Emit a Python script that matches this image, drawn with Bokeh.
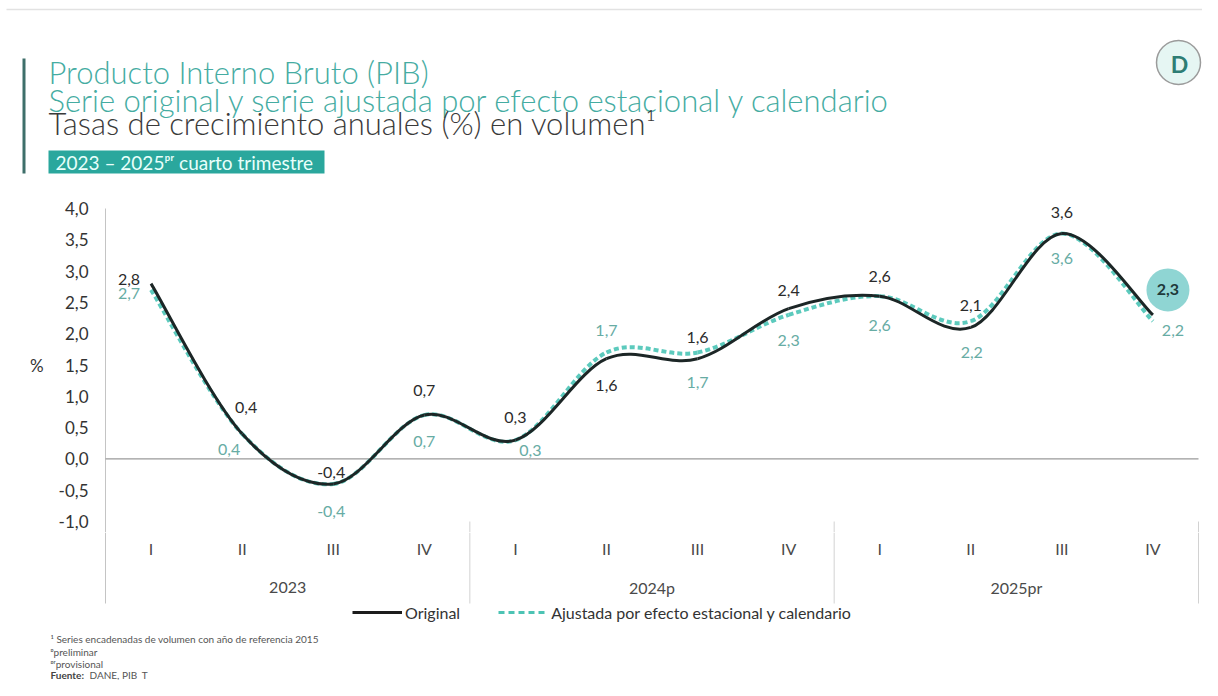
from bokeh.plotting import figure
from bokeh.layouts import column
from bokeh.models import (Range1d, Label, Legend, LegendItem, ColumnDataSource,
                          FixedTicker, CustomJSTickFormatter)
from bokeh.core.properties import value
from bokeh.embed import file_html
from bokeh.resources import INLINE

# ---------------- data ----------------
quarters = ["I", "II", "III", "IV", "I", "II", "III", "IV", "I", "II", "III", "IV"]
years = ["2023", "2024p", "2025pr"]
original = [2.8, 0.4, -0.4, 0.7, 0.3, 1.6, 1.6, 2.4, 2.6, 2.1, 3.6, 2.3]
ajustada = [2.7, 0.4, -0.4, 0.7, 0.3, 1.7, 1.7, 2.3, 2.6, 2.2, 3.6, 2.2]
y_ticks = [-1.0, -0.5, 0.0, 0.5, 1.0, 1.5, 2.0, 2.5, 3.0, 3.5, 4.0]

title1 = "Producto Interno Bruto (PIB)"
title2 = "Serie original y serie ajustada por efecto estacional y calendario"
title3 = "Tasas de crecimiento anuales (%) en volumen\u00b9"
period = "2023 \u2013 2025\u1d56\u02b3 cuarto trimestre"
notes = ["\u00b9 Series encadenadas de volumen con a\u00f1o de referencia 2015",
         "\u1d56preliminar", "\u1d56\u02b3provisional"]
source_label = "Fuente:"
source_text = "DANE, PIB_T"
legend_labels = ["Original", "Ajustada por efecto estacional y calendario"]

# label placement (screen px offsets, +down)
orig_dx = [-22, 4, -2, 0, 0, 0, 0, 0, 0, 0, 0, 15]
orig_dy = [-4, -26, -11, -25, -23, 27, -21, -18, -20, -22, -21, -25]
adj_dx = [-22, -13, -2, 0, 15, 0, 0, 0, 0, 1, 0, 20]
adj_dy = [4, 16, 28, 26, 10, -22, 30, 26, 29, 31, 25, 9]

# ---------------- style / geometry ----------------
FONT = "Lato"
TITLE_FONT = "Lato Light"
TEAL = "#45aca2"
DARK = "#3a3a3a"
LAB_DARK = "#2b2b2b"
LAB_TEAL = "#67aca4"
CAT_COL = "#4a4a4a"

W = 1202
TOP_H, MAIN_H, BOT_H = 198, 334, 148        # page rows: 0-198, 198-532, 532-680
XL, XR = 105, 1198                           # page x of category range 0..12
NCAT = len(quarters)
PXX = (XR - XL) / NCAT
PXY = 62.6                                   # px per 1.0 on y
Y_AT_208 = 4.0                               # value at page y 208
ML = 101


def yv(py):
    return Y_AT_208 - (py - 208) / PXY


def fmt(v):
    return f"{v:.1f}".replace(".", ",")


def base_fig(h, xr, yr, **kw):
    f = figure(width=W, height=h, x_range=xr, y_range=yr, output_backend="svg",
               toolbar_location=None, frame_align=False, **kw)
    f.xaxis.visible = False
    f.xgrid.visible = False
    f.ygrid.visible = False
    f.outline_line_color = None
    f.background_fill_color = "white"
    f.border_fill_color = "white"
    return f


# ================= top: titles =================
ph = base_fig(TOP_H, Range1d(0, W), Range1d(TOP_H, 0),
              min_border_left=0, min_border_right=0, min_border_top=0, min_border_bottom=0)
ph.yaxis.visible = False
ph.segment(x0=[6], y0=[9], x1=[W], y1=[9], line_color="#e2e2e2", line_width=1.5)
ph.quad(left=[22], right=[25], top=[58], bottom=[173], fill_color="#3e6f6a", line_color=None)
ph.text(x=[48, 48, 48], y=[71, 99, 122], text=[title1, title2, title3],
        text_color=[TEAL, TEAL, DARK], text_font=value(TITLE_FONT), text_font_size="31px",
        text_baseline="alphabetic", text_align="left")
ph.quad(left=[48], right=[324], top=[150], bottom=[173], fill_color="#2aa79d", line_color=None)
ph.text(x=[55], y=[162], text=[period], text_color="#e8fffb", text_font=value(FONT),
        text_font_size="19px", text_baseline="middle", text_align="left")
ph.scatter(x=[1178], y=[62], size=44, marker="circle", fill_color="#e6f6f3",
           line_color="#9b9b9b", line_width=1.5)
ph.text(x=[1179], y=[63], text=["D"], text_color="#2e7d74", text_font=value(FONT),
        text_font_size="23px", text_font_style="bold", text_align="center",
        text_baseline="middle")

# ================= main chart =================
Y1m = yv(198)
Y0m = yv(198 + MAIN_H)
pm = base_fig(MAIN_H, Range1d(-(XL - ML) / PXX, NCAT + (W - XR) / PXX), Range1d(Y0m, Y1m),
              min_border_left=ML, min_border_right=0, min_border_top=0, min_border_bottom=0)
yax = pm.yaxis[0]
yax.ticker = FixedTicker(ticks=y_ticks)
yax.formatter = CustomJSTickFormatter(code="return tick.toFixed(1).replace('.', ',');")
yax.axis_line_color = None
yax.major_tick_line_color = None
yax.minor_tick_line_color = None
yax.major_tick_out = 0
yax.major_label_text_font = FONT
yax.major_label_text_font_size = "17px"
yax.major_label_text_color = "#333333"
yax.major_label_standoff = ML - 88
yax.axis_label = "%"
yax.axis_label_orientation = "horizontal"
yax.axis_label_text_font = FONT
yax.axis_label_text_font_style = "normal"
yax.axis_label_text_font_size = "17px"
yax.axis_label_text_color = "#333333"
yax.axis_label_standoff = 12

xc = [i + 0.5 for i in range(NCAT)]
n_years = len(years)
q_per_year = NCAT // n_years
sep_x = [q_per_year * k for k in range(1, n_years + 1)]

pm.segment(x0=[0], y0=[max(y_ticks)], x1=[0], y1=[Y0m], line_color="#c4c4c4", line_width=1)
pm.segment(x0=[0], y0=[0], x1=[NCAT], y1=[0], line_color="#9a9a9a", line_width=1.2)
pm.segment(x0=sep_x, y0=[min(y_ticks)] * len(sep_x), x1=sep_x, y1=[Y0m] * len(sep_x),
           line_color="#d2d2d2", line_width=1)


def smooth(xs, ys):
    n = len(xs)
    d = dict(x0=[], y0=[], x1=[], y1=[], cx0=[], cy0=[], cx1=[], cy1=[])
    for i in range(n - 1):
        a = max(i - 1, 0)
        b = min(i + 2, n - 1)
        d["x0"].append(xs[i]); d["y0"].append(ys[i])
        d["x1"].append(xs[i + 1]); d["y1"].append(ys[i + 1])
        d["cx0"].append(xs[i] + (xs[i + 1] - xs[a]) / 6)
        d["cy0"].append(ys[i] + (ys[i + 1] - ys[a]) / 6)
        d["cx1"].append(xs[i + 1] - (xs[b] - xs[i]) / 6)
        d["cy1"].append(ys[i + 1] - (ys[b] - ys[i]) / 6)
    return ColumnDataSource(d)


BZ = dict(x0="x0", y0="y0", x1="x1", y1="y1", cx0="cx0", cy0="cy0", cx1="cx1", cy1="cy1")
pm.bezier(source=smooth(xc, ajustada), line_color="#5ccabd", line_width=4,
          line_dash="5 3", **BZ)
pm.bezier(source=smooth(xc, original), line_color="#1c2626", line_width=3, **BZ)

# highlight behind the last original value
pm.scatter(x=[xc[-1] + orig_dx[-1] / PXX], y=[original[-1] - orig_dy[-1] / PXY],
           size=43, marker="circle", fill_color="#8fd5d3", line_color=None)

src_o = ColumnDataSource(dict(x=xc, y=original, t=[fmt(v) for v in original],
                              dx=orig_dx, dy=orig_dy,
                              st=["normal"] * (NCAT - 1) + ["bold"],
                              c=[LAB_DARK] * (NCAT - 1) + ["#1f3a3a"]))
pm.text(x="x", y="y", text="t", x_offset="dx", y_offset="dy", source=src_o,
        text_font=value(FONT), text_font_size="16px", text_color="c",
        text_font_style="st", text_align="center", text_baseline="middle")
src_a = ColumnDataSource(dict(x=xc, y=ajustada, t=[fmt(v) for v in ajustada],
                              dx=adj_dx, dy=adj_dy))
pm.text(x="x", y="y", text="t", x_offset="dx", y_offset="dy", source=src_a,
        text_font=value(FONT), text_font_size="16px", text_color=LAB_TEAL,
        text_align="center", text_baseline="middle")

# ================= bottom: categories, legend, notes =================
Y1b = Y0m
Y0b = yv(198 + MAIN_H + BOT_H)
pb = base_fig(BOT_H, Range1d(-XL / PXX, (W - XL) / PXX), Range1d(Y0b, Y1b),
              min_border_left=0, min_border_right=0, min_border_top=0, min_border_bottom=0)
pb.yaxis.visible = False
pb.segment(x0=[0], y0=[Y1b], x1=[0], y1=[yv(603)], line_color="#c4c4c4", line_width=1)
pb.segment(x0=sep_x, y0=[Y1b] * len(sep_x), x1=sep_x, y1=[yv(603)] * len(sep_x),
           line_color="#d2d2d2", line_width=1)
pb.text(x=xc, y=[yv(548)] * NCAT, text=quarters, text_font=value(FONT),
        text_font_size="16px", text_color=CAT_COL, text_align="center", text_baseline="middle")
pb.text(x=[q_per_year * k + q_per_year / 2 for k in range(n_years)], y=[yv(587)] * n_years,
        text=years, text_font=value(FONT), text_font_size="16px", text_color=CAT_COL,
        text_align="center", text_baseline="middle")

# legend samples (same series; they sit above this panel's range and only feed the legend)
r_lo = pb.line(x=xc, y=original, line_color="#1c1c1c", line_width=3)
r_la = pb.line(x=xc, y=ajustada, line_color="#4cc3b4", line_width=3, line_dash="6 4")
legend = Legend(items=[LegendItem(label=legend_labels[0], renderers=[r_lo]),
                       LegendItem(label=legend_labels[1], renderers=[r_la])],
                location=(352, 680 - 622), orientation="horizontal",
                glyph_width=50, glyph_height=20, label_standoff=3, spacing=38,
                padding=0, margin=0, border_line_color=None, background_fill_alpha=0,
                label_text_font=FONT, label_text_font_size="16px", label_text_color="#333333")
pb.add_layout(legend)


def note(text, px, py, style="normal", color="#555555"):
    pb.add_layout(Label(text=text, x=px, y=680 - py, x_units="screen", y_units="screen",
                        text_font=FONT, text_font_size="10px", text_color=color,
                        text_font_style=style, text_baseline="middle"))


for k, t in enumerate(notes):
    note(t, 50, [638, 651, 663][k])
note(source_label, 50, 674, style="bold", color="#444444")
note(source_text, 89, 674)

layout = column(ph, pm, pb, spacing=0)
open("out.html", "w").write(file_html(layout, INLINE))
